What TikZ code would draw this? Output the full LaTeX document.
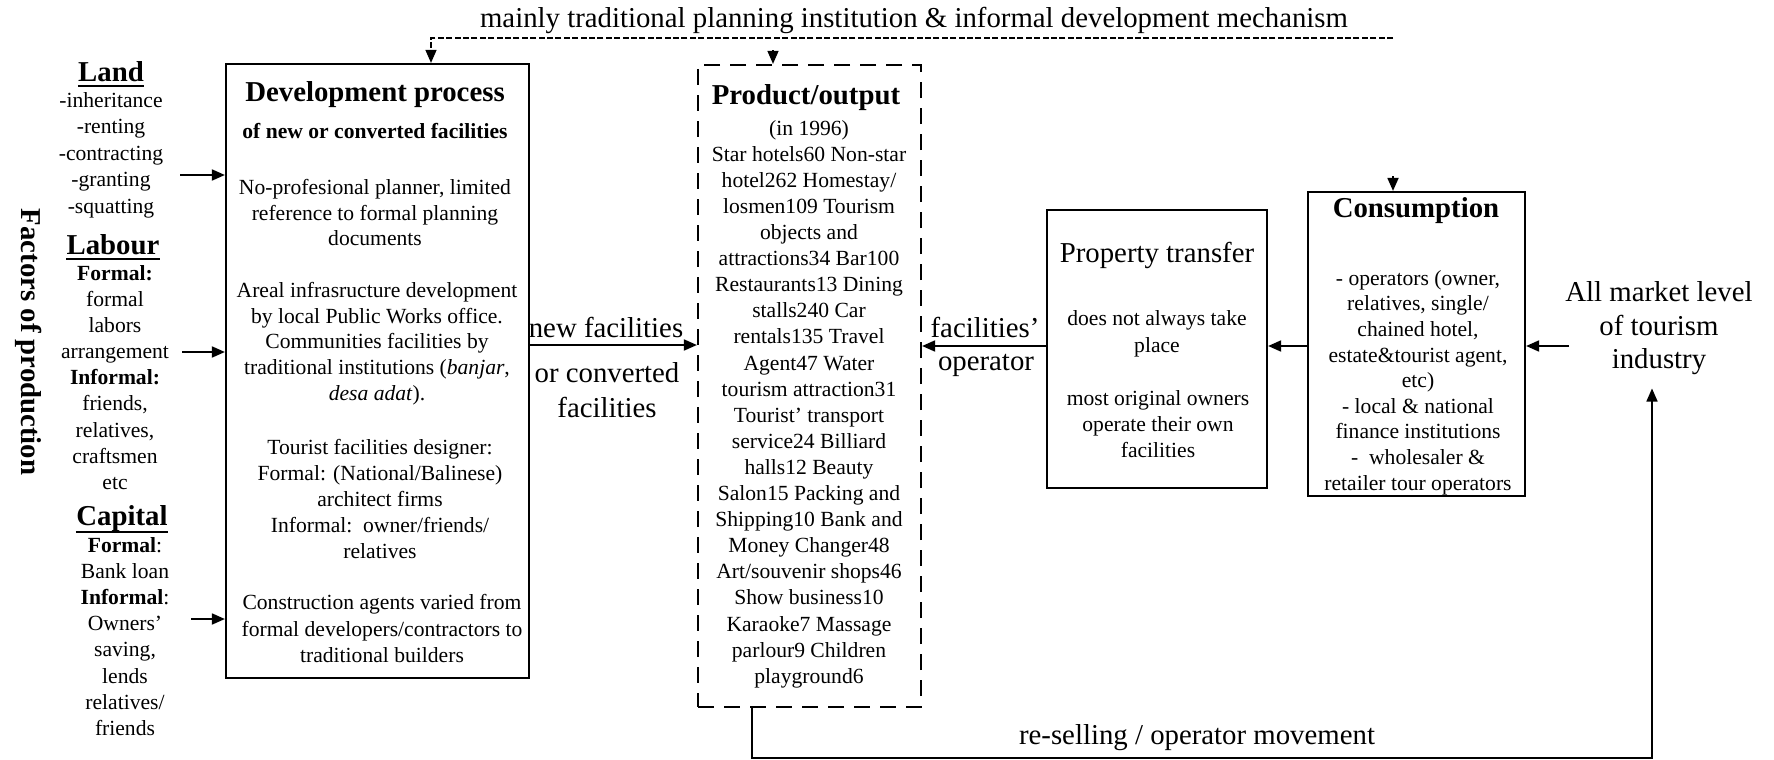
\documentclass[tikz,border=0pt]{standalone}
\usepackage{fontspec}
\setmainfont{Liberation Serif}
\usetikzlibrary{arrows.meta,fit}
\begin{document}
\begin{tikzpicture}[x=0.5pt,y=-0.5pt,
  box/.style={draw, line width=1.1pt, inner sep=0pt},
  dbox/.style={draw, line width=1.1pt, inner sep=0pt, dash pattern=on 8pt off 5pt},
  sm/.style={font=\fontsize{10.8}{#1}\selectfont, align=center, inner sep=0pt},
  sm/.default=13.05,
  lg/.style={font=\fontsize{14.4}{#1}\selectfont, align=center, inner sep=0pt},
  lg/.default=17,
  lgb/.style={font=\bfseries\fontsize{14.4}{17}\selectfont, align=center, inner sep=0pt},
  tip/.style={-{Triangle[length=6.5pt,width=5.5pt]}},
  arr/.style={tip, line width=0.9pt},
  topdash/.style={line width=0.7pt, dash pattern=on 3pt off 1.2pt},
  uline/.style={line width=1pt},
]
\useasboundingbox (0,0) rectangle (1774,760);

% ---------- boxes ----------
\coordinate (devA) at (226,64);   \coordinate (devB) at (529,678);
\coordinate (prodA) at (698,65);  \coordinate (prodB) at (921,707);
\coordinate (propA) at (1047,210);\coordinate (propB) at (1267,488);
\coordinate (consA) at (1308,192);\coordinate (consB) at (1525,496);
\node[box, fit=(devA)(devB)] (dev) {};
\node[dbox, fit=(prodA)(prodB)] (prod) {};
\node[box, fit=(propA)(propB)] (prop) {};
\node[box, fit=(consA)(consB)] (cons) {};

% ---------- top label and dashed feedback line ----------
\node[lg] (top) at (914,20) {mainly traditional planning institution \& informal development mechanism};
\coordinate (dR) at (1393,38);
\coordinate (dL) at (431,38);
\draw[topdash, tip] (dR) -- (dL) -- (dev.north -| dL);
\coordinate (pin) at (773,50);
\draw[topdash, tip] (pin) -- (prod.north -| pin);
\coordinate (cin) at (1393,176);
\draw[arr] (cin) -- (cons.north -| cin);

% ---------- factors of production ----------
\node[lgb, rotate=-90] (fop) at (29,342) {Factors of production};

\node[lgb, anchor=base] (land) at (111,81) {Land};
\draw[uline] ([yshift=-2.5pt]land.base west) -- ([yshift=-2.5pt]land.base east);
\node[sm=13.25] (landl) at (111,155) {-inheritance\\-renting\\-contracting\\-granting\\-squatting};

\node[lgb, anchor=base] (lab) at (113,254) {Labour};
\draw[uline] ([yshift=-2.5pt]lab.base west) -- ([yshift=-2.5pt]lab.base east);
\node[sm] (labl) at (115,377.5) {\textbf{Formal:}\\formal\\labors\\arrangement\\\textbf{Informal:}\\friends,\\relatives,\\craftsmen\\etc};

\node[lgb, anchor=base] (cap) at (122,525) {Capital};
\draw[uline] ([yshift=-3.5pt]cap.base west) -- ([yshift=-3.5pt]cap.base east);
\node[sm] (capl) at (125,636.5) {\textbf{Formal}:\\Bank loan\\\textbf{Informal}:\\Owners'\\saving,\\lends\\relatives/\\friends};

\coordinate (landS) at (180,175);
\coordinate (labS) at (182,352);
\coordinate (capS) at (191,619);
\draw[arr] (landS) -- (landS -| dev.west);
\draw[arr] (labS) -- (labS -| dev.west);
\draw[arr] (capS) -- (capS -| dev.west);

% ---------- development process ----------
\node[lgb] (devt) at (375,95) {Development process};
\node[sm] (devs) at (375,131) {\textbf{of new or converted facilities}};
\node[sm=12.75] (devp1) at (375,212.5) {No-profesional planner, limited\\reference to formal planning\\documents};
\node[sm=12.9] (devp2) at (377,343.5) {Areal infrasructure development\\by local Public Works office.\\Communities facilities by\\traditional institutions (\textit{banjar},\\\textit{desa adat}).};
\node[sm=13] (devp3) at (380,499) {Tourist facilities designer:\\Formal: (National/Balinese)\\architect firms\\Informal:\ \ owner/friends/\\relatives};
\node[sm=13.25] (devp4) at (382,628.5) {Construction agents varied from\\formal developers/contractors to\\traditional builders};

% ---------- product / output ----------
\node[lgb] (prodt) at (806,98) {Product/output};
\node[sm] (prodl) at (809,404) {(in 1996)\\Star hotels60 Non-star\\hotel262 Homestay/\\losmen109 Tourism\\objects and\\attractions34 Bar100\\Restaurants13 Dining\\stalls240 Car\\rentals135 Travel\\Agent47 Water\\tourism attraction31\\Tourist' transport\\service24 Billiard\\halls12 Beauty\\Salon15 Packing and\\Shipping10 Bank and\\Money Changer48\\Art/souvenir shops46\\Show business10\\Karaoke7 Massage\\parlour9 Children\\playground6};

% ---------- flow between boxes ----------
\coordinate (rowA) at (0,345);
\coordinate (rowB) at (0,346);
\node[lg] (nf) at (606,327) {new facilities};
\node[lg=17.5] (oc) at (607,390) {or converted\\facilities};
\draw[arr] (dev.east |- rowA) -- (prod.west |- rowA);

\node[lg] (fo1) at (985,327) {facilities'};
\node[lg] (fo2) at (986,365) {operator};
\draw[arr] (prop.west |- rowB) -- (prod.east |- rowB);

% ---------- property transfer ----------
\node[lg] (propt) at (1157,255) {Property transfer};
\node[sm=13.5] (propp1) at (1157,333.5) {does not always take\\place};
\node[sm=13] (propp2) at (1158,424) {most original owners\\operate their own\\facilities};
\draw[arr] (cons.west |- rowB) -- (prop.east |- rowB);

% ---------- consumption ----------
\node[lgb] (const) at (1416,211) {Consumption};
\node[sm=12.8] (consl) at (1418,382.5) {- operators (owner,\\relatives, single/\\chained hotel,\\estate\&tourist agent,\\etc)\\- local \& national\\finance institutions\\-\ \ wholesaler \&\\retailer tour operators};

% ---------- market ----------
\node[lg=16.75] (am) at (1659,328.5) {All market level\\of tourism\\industry};
\draw[arr] ([xshift=2pt]am.west |- rowB) -- (cons.east |- rowB);

% ---------- re-selling loop ----------
\coordinate (lp) at (752,758);
\coordinate (rp) at (1652,758);
\coordinate (amtip) at ([yshift=-6.5pt]am.south);
\draw[arr, line width=0.8pt] (prod.south -| lp) -- (lp) -- (rp) -- (rp |- amtip);
\node[lg] (rs) at (1197,738) {re-selling / operator movement};
\end{tikzpicture}
\end{document}
